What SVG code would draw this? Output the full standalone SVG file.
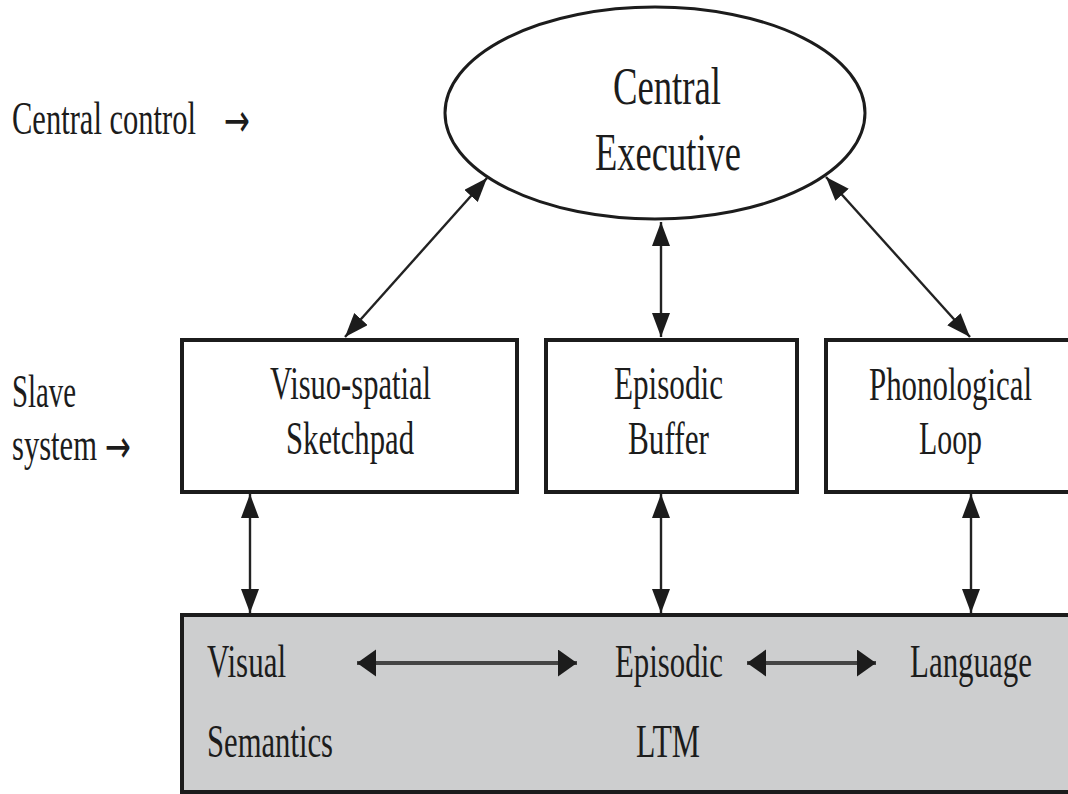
<svg xmlns="http://www.w3.org/2000/svg" width="1068" height="794" viewBox="0 0 1068 794">
<style>
text{font-family:"Liberation Serif","Times New Roman",serif;fill:#1c1c1c;}
.big{font-size:52px;}
.lbl{font-size:47px;}
.arr{font-family:"DejaVu Sans",sans-serif;font-size:46px;}
.box{fill:#fff;stroke:#1c1c1c;stroke-width:4;}
.conn{stroke:#222;stroke-width:2.4;fill:none;}
.hconn{stroke:#444;stroke-width:4;fill:none;}
</style>
<defs>
<marker id="ah" markerUnits="userSpaceOnUse" markerWidth="26" markerHeight="20" refX="24" refY="9" orient="auto-start-reverse">
<path d="M0,0 L24,9 L0,18 Z" fill="#1c1c1c"/>
</marker>
<marker id="ahh" markerUnits="userSpaceOnUse" markerWidth="20" markerHeight="28" refX="19" refY="13.5" orient="auto-start-reverse">
<path d="M0,0 L19,13.5 L0,27 Z" fill="#1c1c1c"/>
</marker>
</defs>
<rect width="1068" height="794" fill="#fff"/>

<g id="label-central-control">
<text class="lbl" y="134"><tspan x="12" textLength="184" lengthAdjust="spacingAndGlyphs">Central control</tspan><tspan class="arr" x="224" y="136" textLength="26" lengthAdjust="spacingAndGlyphs">→</tspan></text>
</g>
<g id="label-slave-system">
<text class="lbl" x="12" y="407" textLength="64" lengthAdjust="spacingAndGlyphs">Slave</text>
<text class="lbl" y="460"><tspan x="12" textLength="85" lengthAdjust="spacingAndGlyphs">system</tspan><tspan class="arr" x="105" y="462" textLength="26" lengthAdjust="spacingAndGlyphs">→</tspan></text>
</g>

<g id="central-executive">
<ellipse cx="655" cy="113" rx="210" ry="106" fill="#fff" stroke="#1c1c1c" stroke-width="3"/>
<text class="big" x="613" y="104" textLength="108" lengthAdjust="spacingAndGlyphs">Central</text>
<text class="big" x="595" y="170" textLength="146" lengthAdjust="spacingAndGlyphs">Executive</text>
</g>

<g id="visuo-spatial-sketchpad">
<rect class="box" x="182" y="340" width="335" height="152"/>
<text class="lbl" x="270" y="399" textLength="161" lengthAdjust="spacingAndGlyphs">Visuo-spatial</text>
<text class="lbl" x="286" y="454" textLength="128" lengthAdjust="spacingAndGlyphs">Sketchpad</text>
</g>

<g id="episodic-buffer">
<rect class="box" x="546" y="340" width="251" height="152"/>
<text class="lbl" x="614" y="399" textLength="109" lengthAdjust="spacingAndGlyphs">Episodic</text>
<text class="lbl" x="628" y="454" textLength="81" lengthAdjust="spacingAndGlyphs">Buffer</text>
</g>

<g id="phonological-loop">
<rect class="box" x="826" y="340" width="250" height="152"/>
<text class="lbl" x="869" y="400" textLength="163" lengthAdjust="spacingAndGlyphs">Phonological</text>
<text class="lbl" x="919" y="454" textLength="63" lengthAdjust="spacingAndGlyphs">Loop</text>
</g>

<g id="ltm">
<rect x="182" y="615" width="900" height="177" fill="#cdcecf" stroke="#1c1c1c" stroke-width="4"/>
<text class="lbl" x="207" y="677" textLength="79" lengthAdjust="spacingAndGlyphs">Visual</text>
<text class="lbl" x="207" y="757" textLength="126" lengthAdjust="spacingAndGlyphs">Semantics</text>
<text class="lbl" x="615" y="677" textLength="108" lengthAdjust="spacingAndGlyphs">Episodic</text>
<text class="lbl" x="636" y="757" textLength="64" lengthAdjust="spacingAndGlyphs">LTM</text>
<text class="lbl" x="910" y="677" textLength="122" lengthAdjust="spacingAndGlyphs">Language</text>
</g>

<g id="connectors">
<line class="conn" x1="487" y1="178" x2="345" y2="337" marker-start="url(#ah)" marker-end="url(#ah)"/>
<line class="conn" x1="661" y1="222" x2="661" y2="337" marker-start="url(#ah)" marker-end="url(#ah)"/>
<line class="conn" x1="826" y1="177" x2="970" y2="337" marker-start="url(#ah)" marker-end="url(#ah)"/>
<line class="conn" x1="250" y1="494" x2="250" y2="613" marker-start="url(#ah)" marker-end="url(#ah)"/>
<line class="conn" x1="661" y1="494" x2="661" y2="613" marker-start="url(#ah)" marker-end="url(#ah)"/>
<line class="conn" x1="971" y1="494" x2="971" y2="613" marker-start="url(#ah)" marker-end="url(#ah)"/>
<line class="hconn" x1="357" y1="663" x2="577" y2="663" marker-start="url(#ahh)" marker-end="url(#ahh)"/>
<line class="hconn" x1="747" y1="663" x2="876" y2="663" marker-start="url(#ahh)" marker-end="url(#ahh)"/>
</g>
</svg>
